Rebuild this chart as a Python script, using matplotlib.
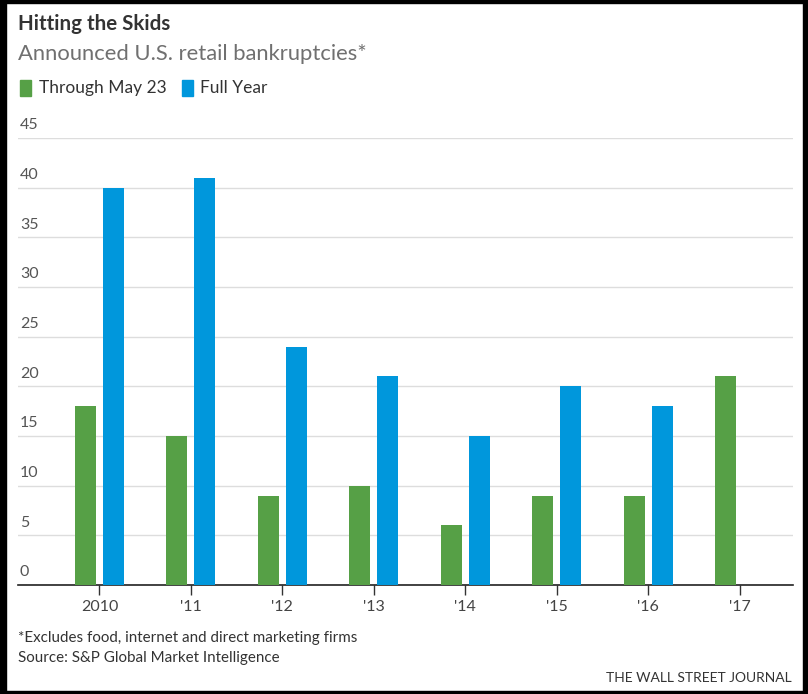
import matplotlib
matplotlib.use("Agg")
import matplotlib.pyplot as plt
from matplotlib.patches import Rectangle
from matplotlib.transforms import blended_transform_factory, offset_copy
import numpy as np

years = ["2010", "'11", "'12", "'13", "'14", "'15", "'16", "'17"]
through_may23 = [18, 15, 9, 10, 6, 9, 9, 21]
full_year = [40, 41, 24, 21, 15, 20, 18, None]
yticks = [0, 5, 10, 15, 20, 25, 30, 35, 40, 45]

GREEN = "#56A046"
BLUE = "#0097DC"
W, H = 808, 694
plt.rcParams['font.family'] = ['Lato', 'DejaVu Sans']

fig = plt.figure(figsize=(W / 100, H / 100), dpi=100)
fig.patch.set_facecolor("white")

def fx(px):
    return px / W

def fy(py):
    return 1 - py / H

ax = fig.add_axes([fx(18), fy(585), fx(793) - fx(18), fy(138) - fy(585)])
x = np.arange(len(years))
bw = 0.23
off = 0.153
ax.bar(x - off, through_may23, width=bw, color=GREEN, zorder=3)
fx_idx = [i for i, v in enumerate(full_year) if v is not None]
ax.bar(x[fx_idx] + off, [full_year[i] for i in fx_idx], width=bw, color=BLUE, zorder=3)

ax.set_xlim(-0.89, 7.58)
ax.set_ylim(0, 45)
ax.set_yticks(yticks)
ax.yaxis.grid(True, color="#dddddd", linewidth=1, zorder=0)
ax.set_yticklabels([])
ax.tick_params(axis="y", length=0)
tr = offset_copy(blended_transform_factory(fig.transFigure, ax.transData), fig=fig, x=0, y=4, units="points")
for t in yticks:
    ax.text(fx(20), t, str(t), transform=tr, ha="left", va="bottom", fontsize=11.5, color="#555555")

ax.set_xticks(x)
ax.set_xticklabels(years, fontsize=11.5, color="#444444")
ax.tick_params(axis="x", length=7, width=1, color="#333333", pad=4)
for s in ["top", "right", "left"]:
    ax.spines[s].set_visible(False)
ax.spines["bottom"].set_color("#222222")
ax.spines["bottom"].set_linewidth(1.2)
ax.set_facecolor("white")

# Titles
fig.text(fx(18), fy(30), "Hitting the Skids", fontsize=14.8, fontweight="bold", color="#333333", ha="left", va="baseline")
fig.text(fx(18), fy(60), "Announced U.S. retail bankruptcies*", fontsize=15.8, color="#707070", ha="left", va="baseline")

# Legend
fig.add_artist(Rectangle((fx(20), fy(96)), fx(11), 16 / H, transform=fig.transFigure, color=GREEN))
fig.text(fx(39), fy(93), "Through May 23", fontsize=12.5, color="#333333", ha="left", va="baseline")
fig.add_artist(Rectangle((fx(182), fy(96)), fx(11), 16 / H, transform=fig.transFigure, color=BLUE))
fig.text(fx(200), fy(93), "Full Year", fontsize=12.5, color="#333333", ha="left", va="baseline")

# Footnotes
fig.text(fx(18), fy(642), "*Excludes food, internet and direct marketing firms", fontsize=10.9, color="#333333", ha="left", va="baseline")
fig.text(fx(18), fy(662), "Source: S&P Global Market Intelligence", fontsize=10.9, color="#333333", ha="left", va="baseline")
fig.text(fx(792), fy(682), "THE WALL STREET JOURNAL", fontsize=10, color="#333333", ha="right", va="baseline")

# Border
for (x0, y0, w, h) in [(0, 0, 6, H), (W - 5, 0, 5, H), (0, 0, W, 3), (0, H - 3, W, 3)]:
    fig.add_artist(Rectangle((x0 / W, 1 - (y0 + h) / H), w / W, h / H, transform=fig.transFigure, color="black"))

fig.savefig("out.png", dpi=100, facecolor="white")
